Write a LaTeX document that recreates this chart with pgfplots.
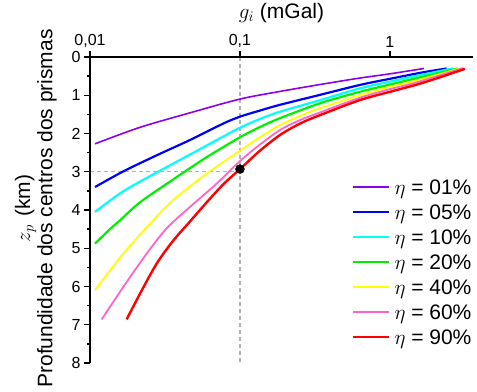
\RequirePackage{fix-cm}
\documentclass[border=0pt]{standalone}
\usepackage{fontspec}
\setmainfont{Liberation Sans}
\usepackage{pgfplots}
\pgfplotsset{compat=1.18}
\definecolor{cPurple}{RGB}{140,0,235}
\definecolor{cBlue}{RGB}{0,0,255}
\definecolor{cCyan}{RGB}{0,255,255}
\definecolor{cGreen}{RGB}{0,240,0}
\definecolor{cYellow}{RGB}{255,255,0}
\definecolor{cPink}{RGB}{255,100,200}
\definecolor{cRed}{RGB}{255,0,0}
\definecolor{axisblack}{RGB}{0,0,0}
\begin{document}
\begin{tikzpicture}
\begin{axis}[
 scale only axis, width=383pt, height=306pt,
 xmode=log, log basis x=10, xmin=0.01, xmax=3.58,
 ymin=0, ymax=8, y dir=reverse, clip=false,
 axis x line=top, axis y line=left,
 axis line style={draw=none},
 xtick={0.01,0.1,1}, xticklabels={{0,01},{0,1},{1}},
 ytick={0,1,...,8}, minor ytick={0.5,1.5,...,7.5},
 tick align=outside, major tick length=6pt, minor tick length=3pt,
 every tick/.style={black, line width=1.4pt},
 tick label style={font=\fontsize{16}{16}\selectfont},
 /pgf/number format/assume math mode=true,
 title={$g_i$ (mGal)},
 title style={at={(axis description cs:0.5,1)}, anchor=base, yshift=33pt, font=\fontsize{21}{21}\selectfont},
 ylabel={$z_p$\hspace{0.4em}(km)\\Profundidade dos centros dos prismas},
 ylabel style={at={(axis description cs:-0.0862,0.505)}, anchor=south, align=center, inner sep=0pt, font=\fontsize{21}{21}\selectfont},
 legend style={at={(axis description cs:0.684,0.601)}, anchor=north west, draw=none, fill=none, inner sep=0pt, row sep=5pt, column sep=3pt, font=\fontsize{21}{21}\selectfont, nodes={inner sep=1pt, text height=14pt, text depth=4pt}},
 legend cell align=left,
 legend image code/.code={\draw[#1] (0pt,2pt) -- (36pt,2pt);},
]
\addplot[gray!60, line width=1.2pt, dash pattern=on 4pt off 3pt, forget plot] coordinates {(0.1,0) (0.1,8)};
\addplot[gray!60, line width=1.2pt, dash pattern=on 4pt off 3pt, forget plot] coordinates {(0.01,3) (0.1,3)};

\addplot[cPurple, line width=1.6pt, smooth, tension=0.5] coordinates {
(0.0108,2.27) (0.0215,1.84) (0.0464,1.46) (0.1,1.10) (0.185,0.90) (0.341,0.72) (0.631,0.55) (1.0,0.44) (1.685,0.30)};
\addlegendentry{$\eta$ = 01\%}
\addplot[cBlue, line width=2.2pt, smooth, tension=0.5] coordinates {
(0.0108,3.40) (0.01668,2.99) (0.02785,2.57) (0.04642,2.17) (0.07737,1.74) (0.1,1.56) (0.1359,1.40) (0.1848,1.25) (0.3415,0.99) (0.631,0.73) (1.0,0.57) (1.514,0.43) (1.848,0.37) (2.388,0.30)};
\addlegendentry{$\eta$ = 05\%}
\addplot[cCyan, line width=2.2pt, smooth, tension=0.5] coordinates {
(0.0108,4.05) (0.01668,3.51) (0.02785,3.02) (0.04642,2.55) (0.07737,2.08) (0.1,1.85) (0.1359,1.62) (0.1848,1.43) (0.3415,1.13) (0.631,0.82) (1.0,0.645) (1.514,0.49) (2.63,0.30)};
\addlegendentry{$\eta$ = 10\%}
\addplot[cGreen, line width=2.2pt, smooth, tension=0.5] coordinates {
(0.0108,4.88) (0.01359,4.50) (0.01585,4.27) (0.02154,3.80) (0.03592,3.20) (0.05998,2.62) (0.1,2.10) (0.1359,1.83) (0.1848,1.60) (0.3415,1.21) (0.631,0.91) (1.0,0.72) (1.514,0.55) (2.84,0.30)};
\addlegendentry{$\eta$ = 20\%}
\addplot[cYellow, line width=1.8pt, smooth, tension=0.5] coordinates {
(0.0108,6.10) (0.01668,5.14) (0.02642,4.27) (0.03592,3.74) (0.05998,3.05) (0.1,2.45) (0.1359,2.10) (0.1848,1.78) (0.2512,1.54) (0.3415,1.34) (0.631,1.00) (1.0,0.78) (1.514,0.61) (2.974,0.29)};
\addlegendentry{$\eta$ = 40\%}
\addplot[cPink, line width=1.8pt, smooth, tension=0.5] coordinates {
(0.01197,6.86) (0.01668,6.01) (0.02388,5.14) (0.03246,4.48) (0.04642,3.92) (0.06993,3.31) (0.1,2.72) (0.1359,2.29) (0.1848,1.91) (0.2512,1.65) (0.3415,1.45) (0.631,1.065) (1.0,0.84) (1.514,0.66) (3.066,0.29)};
\addlegendentry{$\eta$ = 60\%}
\addplot[cRed, line width=2.4pt, smooth, tension=0.5] coordinates {
(0.01756,6.86) (0.02154,6.19) (0.02785,5.40) (0.03592,4.80) (0.04642,4.30) (0.05998,3.80) (0.07737,3.33) (0.1,2.93) (0.1359,2.45) (0.1848,2.04) (0.2512,1.74) (0.3415,1.52) (0.631,1.126) (1.0,0.91) (1.514,0.72) (2.154,0.53) (3.162,0.31)};
\addlegendentry{$\eta$ = 90\%}
\addplot[only marks, mark=*, mark size=4.5pt, black, forget plot] coordinates {(0.1,2.93)};
\end{axis}
\fill[axisblack] ([shift={(-1.3pt,0pt)}]current axis.south west) rectangle ([shift={(1.3pt,1.3pt)}]current axis.north west);
\fill[axisblack] ([shift={(-1.3pt,-1.3pt)}]current axis.north west) rectangle ([shift={(0pt,1.3pt)}]current axis.north east);
\pgfresetboundingbox
\path[use as bounding box] ([shift={(-90pt,-29pt)}]current axis.south west) rectangle ([shift={(4pt,57pt)}]current axis.north east);
\end{tikzpicture}
\end{document}
